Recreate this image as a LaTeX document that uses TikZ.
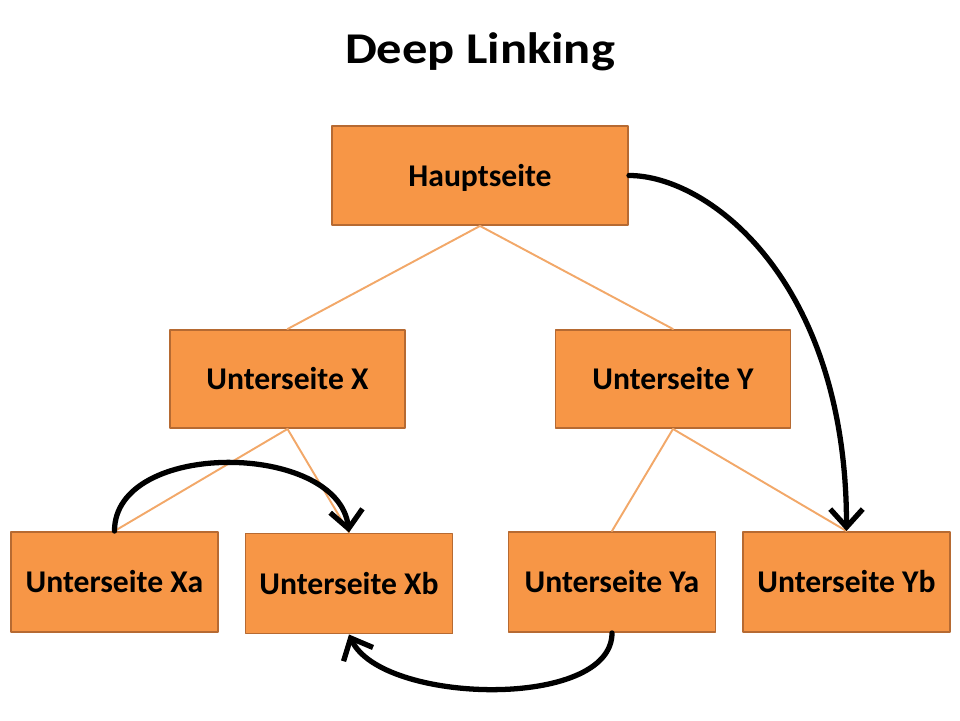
\documentclass[tikz,border=0pt]{standalone}
\usepackage{fontspec}
\setmainfont{Carlito}
\newfontfamily\headfont{Carlito}[FakeStretch=1.15]
\usetikzlibrary{arrows.meta}
\definecolor{pagefill}{RGB}{247,150,70}
\definecolor{pageline}{RGB}{182,106,50}
\definecolor{treeline}{RGB}{242,168,105}
\begin{document}
\begin{tikzpicture}[font=\bfseries\fontsize{18}{21}\selectfont, line join=round, line cap=round, >={Straight Barb[length=3.6mm,width=6.5mm]},
	page/.style={draw=pageline, line width=1.1pt, fill=pagefill, inner sep=0pt, text height=12pt, text depth=0pt},
	tree/.style={treeline, line width=1.1pt},
	link/.style={->, line width=3pt}]
	\useasboundingbox (0,0) rectangle (19.2,14.4);
	\node[anchor=base, font=\headfont\bfseries\fontsize{25}{30}\selectfont] (title) at (9.6,13.13) {Deep Linking};
	\node[page, minimum width=5.92cm, minimum height=1.98cm] (H) at (9.6,10.89) {Hauptseite};
	\foreach \n/\x in {X/5.75, Y/13.46} \node[page, minimum width=4.7cm, minimum height=1.96cm] (\n) at (\x,6.82) {Unterseite \n};
	\foreach \n/\x/\y in {Xa/2.29/2.76, Xb/6.98/2.73, Ya/12.24/2.76, Yb/16.93/2.76} \node[page, minimum width=4.14cm, minimum height=2cm] (\n) at (\x,\y) {Unterseite \n};
	\foreach \a/\b in {H/X, H/Y, X/Xa, X/Xb, Y/Ya, Y/Yb} \draw[tree] (\a.south)--(\b.north);
	\draw[link] (H.east) to[out=0, in=90, out distance=1.6cm, in distance=5cm] (Yb.north);
	\draw[link] (Xa.north) to[out=90, in=97] (Xb.north);
	\draw[link] (Ya.south) to[out=-90, in=-65, looseness=.75] (Xb.south);
\end{tikzpicture}
\end{document}
